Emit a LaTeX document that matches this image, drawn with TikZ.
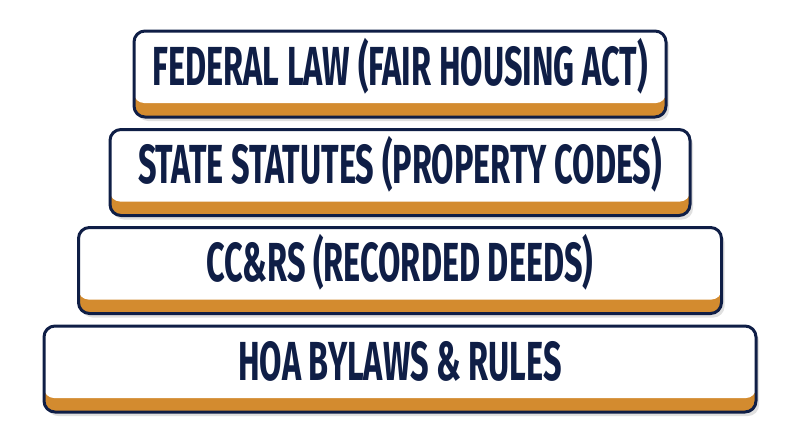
\documentclass[tikz,border=0pt]{standalone}
\usepackage{fontspec}
\usetikzlibrary{shadows}
\newfontfamily\tierfont[FakeStretch=0.59]{Fira Sans}
\definecolor{navy}{HTML}{0F1E46}
\definecolor{gold}{HTML}{D38B2F}
\tikzset{
	tier/.style={draw=navy, line width=3pt, fill=gold, rounded corners=11pt,
		minimum height=86pt, inner sep=0pt,
		drop shadow={shadow xshift=3pt, shadow yshift=-4pt, opacity=0.12, fill=black},
		path picture={\fill[white, rounded corners=10pt] (path picture bounding box.north west) rectangle ([yshift=14pt]path picture bounding box.south east);}},
	tiertext/.style={anchor=base, text=navy, font=\tierfont\bfseries\fontsize{55}{55}\selectfont, inner sep=0pt}
}
\begin{document}
\begin{tikzpicture}[x=1pt,y=-1pt]
		\useasboundingbox (0,0) rectangle (800,447);
		\foreach \n/\w/\y/\t in {1/532/74/{FEDERAL LAW (FAIR HOUSING ACT)},2/580/172.5/{STATE STATUTES (PROPERTY CODES)},3/643/270.5/{CC\&RS (RECORDED DEEDS)},4/712/369/{HOA BYLAWS \& RULES}}
		{
			\node[tier, minimum width=\w pt] (tier\n) at (400,\y) {};
			\node[tiertext] (label\n) at ([yshift=-11pt]tier\n.center) {\t};
		}
		\end{tikzpicture}
\end{document}
